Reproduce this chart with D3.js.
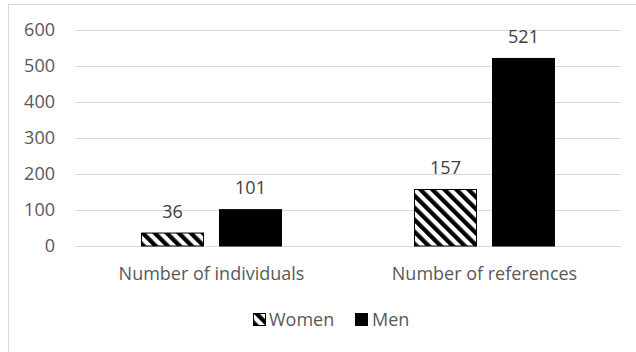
<!DOCTYPE html>
<html>
<head>
<meta charset="utf-8">
<script src="https://cdn.jsdelivr.net/npm/d3@7/dist/d3.min.js"></script>
<style>
  html, body { margin: 0; padding: 0; background: #fff; }
  svg { display: block; font-family: "Open Sans", sans-serif; }
</style>
</head>
<body>
<svg id="chart" width="636" height="352"></svg>
<script>
// Counts of women and men, by measure
const categories = ["Number of individuals", "Number of references"];
const seriesNames = ["Women", "Men"];
const women = [36, 157];
const men = [101, 521];
const yTicks = [0, 100, 200, 300, 400, 500, 600];

const svg = d3.select("#chart");
const W = 636, H = 352;
const plot = { left: 75, right: 621, top: 30, bottom: 246 };
const fontSize = "18px";

// Chart frame
svg.append("rect")
  .attr("x", 8.5).attr("y", 4.5)
  .attr("width", W + 10).attr("height", H + 10)
  .attr("fill", "#fff").attr("stroke", "#d9d9d9").attr("stroke-width", 1);

// Downward diagonal hatch used for the Women series
const defs = svg.append("defs");
const pat = defs.append("pattern")
  .attr("id", "hatch")
  .attr("patternUnits", "userSpaceOnUse")
  .attr("width", 8.5).attr("height", 8.5)
  .attr("patternTransform", "rotate(-45)");
pat.append("rect").attr("width", 8.5).attr("height", 8.5).attr("fill", "#fff");
pat.append("rect").attr("width", 4.3).attr("height", 8.5).attr("fill", "#000");

const fills = { Women: "url(#hatch)", Men: "#000" };

const x0 = d3.scaleBand().domain(categories).range([plot.left, plot.right]).padding(0);
const x1 = d3.scaleBand().domain(seriesNames)
  .range([66.5, x0.bandwidth() - 66.5]).paddingInner(16 / 78).paddingOuter(0);
const y = d3.scaleLinear().domain([0, 600]).range([plot.bottom, plot.top]);

// Gridlines and value axis
const yAxis = d3.axisLeft(y).tickValues(yTicks).tickSize(-(plot.right - plot.left)).tickPadding(20);
const gy = svg.append("g").attr("transform", `translate(${plot.left},0)`).call(yAxis);
gy.select(".domain").remove();
gy.selectAll(".tick line").attr("stroke", "#d9d9d9").attr("stroke-width", 1);
gy.selectAll(".tick text")
  .attr("fill", "#595959").style("font-size", fontSize)
  .style("font-family", "'Open Sans', sans-serif");

// Category axis labels
const xAxis = d3.axisBottom(x0).tickSize(0).tickPadding(0);
const gx = svg.append("g").attr("transform", `translate(0,${plot.bottom})`).call(xAxis);
gx.select(".domain").attr("stroke", "#d9d9d9");
gx.selectAll(".tick text")
  .attr("fill", "#595959").style("font-size", fontSize)
  .style("font-family", "'Open Sans', sans-serif")
  .attr("dy", null).attr("y", 34);

// Bars
const rows = categories.map((c, i) => ({
  category: c,
  values: [{ series: "Women", value: women[i] }, { series: "Men", value: men[i] }]
}));

const groups = svg.append("g").selectAll("g").data(rows).join("g")
  .attr("transform", d => `translate(${x0(d.category)},0)`);

groups.selectAll("rect").data(d => d.values).join("rect")
  .attr("x", d => x1(d.series))
  .attr("y", d => y(d.value))
  .attr("width", x1.bandwidth())
  .attr("height", d => y(0) - y(d.value))
  .attr("fill", d => fills[d.series])
  .attr("stroke", "#000").attr("stroke-width", 1);

groups.selectAll("text").data(d => d.values).join("text")
  .attr("x", d => x1(d.series) + x1.bandwidth() / 2)
  .attr("y", d => y(d.value) - 15.5)
  .attr("text-anchor", "middle")
  .attr("fill", "#404040").style("font-size", fontSize)
  .text(d => d.value);

// Legend
const legend = svg.append("g");
const legendItems = [
  { name: "Women", x: 253.5, tx: 269 },
  { name: "Men", x: 355.5, tx: 372 }
];
legend.selectAll("rect").data(legendItems).join("rect")
  .attr("x", d => d.x).attr("y", 313.5).attr("width", 12).attr("height", 12)
  .attr("fill", d => fills[d.name]).attr("stroke", "#000").attr("stroke-width", 1);
legend.selectAll("text").data(legendItems).join("text")
  .attr("x", d => d.tx).attr("y", 326)
  .attr("fill", "#595959").style("font-size", fontSize)
  .text(d => d.name);
</script>
</body>
</html>
